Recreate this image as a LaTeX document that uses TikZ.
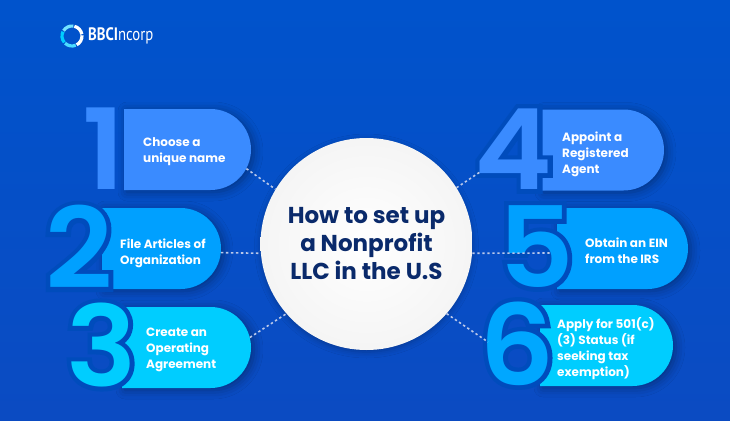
\documentclass[tikz,border=0pt]{standalone}
\usepackage{fontspec}
\usepackage{xcolor}
\usetikzlibrary{shapes.misc}
\usetikzlibrary{shadows.blur}
\setmainfont{Poppins}
\newfontfamily\numfont{Poppins SemiBold}
\newfontfamily\halofont{Poppins SemiBold}[FakeBold=8]
\newfontfamily\logofont{PT Sans}
\definecolor{pageblue}{HTML}{0053CC}
\definecolor{pagedeep}{HTML}{0B4BC2}
\definecolor{stepa}{HTML}{3A8BFF}
\definecolor{stepb}{HTML}{00A0FF}
\definecolor{stepc}{HTML}{00CDFF}
\definecolor{navy}{HTML}{0A2A6B}
\definecolor{dots}{HTML}{BAC8EA}

\begin{document}
\begin{tikzpicture}[
  x = 1pt, y = -1pt,
  pill/.style = {rounded rectangle, rounded rectangle west arc = none, inner sep = 0pt,
    minimum height = 81pt, blur shadow = {shadow xshift = 3pt, shadow yshift = -2pt,
    shadow blur radius = 9pt, shadow opacity = 35}},
  numeral/.style = {inner sep = 0pt, xscale = 1.05, font = \numfont\fontsize{112}{112}\selectfont},
  halo/.style = {inner sep = 0pt, xscale = 1.05, text = pageblue!92!black, font = \halofont\fontsize{112}{112}\selectfont},
  tag/.style = {anchor = west, align = left, inner sep = 0pt, text = white,
    font = \bfseries\fontsize{12}{16}\selectfont},
  link/.style = {draw = dots, line width = 1.6pt, dash pattern = on 2.4pt off 2.6pt}
]
\useasboundingbox (0,0) rectangle (730,420);
\fill[top color = pageblue, bottom color = pagedeep] (0,0) rectangle (730,420);

% logo
\foreach \a/\c in {10/white, 82/stepc!55!white, 154/stepc, 226/stepc!70!white, 298/white}
  \draw[\c, line width = 3.2pt] (72,36) ++(\a:10pt) arc[start angle = \a, end angle = \a + 66, radius = 10pt];
\node (logo) [anchor = west, inner sep = 0pt, text = white, xscale = 0.82] at (88,36)
  {\logofont\fontsize{18}{18}\selectfont\textbf{BBCI}ncorp};

% left side
\node (pill1) [pill, fill = stepa, minimum width = 127pt] at (187.5,149.5) {};
\node (num1) [numeral, text = stepa] at (104,148.5) {1};
\node (pill2) [pill, fill = stepb, minimum width = 119pt] at (161.5,248.5) {};
\node (halo2) [halo] at (79,247) {2};
\node (num2) [numeral, text = stepb] at (79,247) {2};
\node (pill3) [pill, fill = stepc, minimum width = 129pt] at (186.5,347.5) {};
\node (halo3) [halo] at (101.5,345) {3};
\node (num3) [numeral, text = stepc] at (101.5,345) {3};

% right side
\node (pill4) [pill, fill = stepa, minimum width = 123pt] at (602.5,150) {};
\node (halo4) [halo] at (513.5,149) {4};
\node (num4) [numeral, text = stepa] at (513.5,149) {4};
\node (pill5) [pill, fill = stepb, minimum width = 131pt] at (622.5,248.5) {};
\node (halo5) [halo] at (536,246.5) {5};
\node (num5) [numeral, text = stepb] at (536,246.5) {5};
\node (pill6) [pill, fill = stepc, minimum width = 133pt] at (606.5,345.5) {};
\node (halo6) [halo] at (517,343.5) {6};
\node (num6) [numeral, text = stepb!85!stepc] at (517,343.5) {6};

\coordinate (end4) at (480,172);
\coordinate (end5) at (550,253);
\coordinate (end6) at (488,342);

% centre
\node (hub) [circle, minimum size = 212pt, inner sep = 0pt, inner color = white, outer color = white!96!black,
  blur shadow = {shadow xshift = 0pt, shadow yshift = -2pt, shadow blur radius = 6pt, shadow opacity = 25},
  align = center, text = navy, font = \bfseries\fontsize{23}{28}\selectfont] at (366.5,244)
  {How to set up\\a Nonprofit\\LLC in the U.S};

\draw[link] (pill1.-18) -- (hub.149);
\draw[link] (pill2.-4) -- (hub.185);
\draw[link] (pill3.9) -- (hub.221);
\draw[link] (hub.32) -- (end4);
\draw[link] (hub.-5) -- (end5);
\draw[link] (hub.-41) -- (end6);

\node (text1) [tag] at (143,151.5) {Choose a\\unique name};
\node (text2) [tag] at (120,253.5) {File Articles of\\Organization};
\node (text3) [tag] at (146,349.5) {Create an\\Operating\\Agreement};
\node (text4) [tag] at (562,154.5) {Appoint a\\Registered\\Agent};
\node (text5) [tag] at (585,250.5) {Obtain an EIN\\from the IRS};
\node (text6) [tag] at (557,348.5) {Apply for 501(c)\\(3) Status (if\\seeking tax\\exemption)};
\end{tikzpicture}
\end{document}
